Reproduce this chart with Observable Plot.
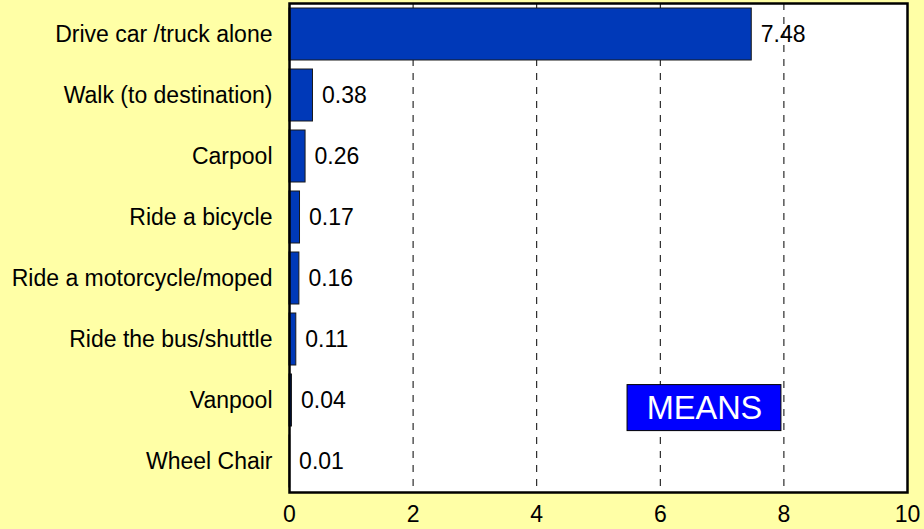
<!DOCTYPE html>
<html>
<head>
<meta charset="utf-8">
<script src="https://cdn.jsdelivr.net/npm/d3@7"></script>
<script src="https://cdn.jsdelivr.net/npm/@observablehq/plot@0.6"></script>
<style>
  html, body { margin: 0; padding: 0; background: #ffffa6; }
  #chart svg { display: block; }
</style>
</head>
<body>
<div id="chart"></div>
<script>
const categories = [
  "Drive car /truck alone",
  "Walk (to destination)",
  "Carpool",
  "Ride a bicycle",
  "Ride a motorcycle/moped",
  "Ride the bus/shuttle",
  "Vanpool",
  "Wheel Chair"
];
const means = [7.48, 0.38, 0.26, 0.17, 0.16, 0.11, 0.04, 0.01];
const xTicks = [0, 2, 4, 6, 8, 10];
const gridTicks = [2, 4, 6, 8];
const legendLabel = ["MEANS"];

const data = categories.map((c, i) => ({ mode: c, value: means[i] }));
const legendBox = [{ x1: 5.47, x2: 7.96, y: "Vanpool", label: legendLabel[0] }];
const FONT = "'Liberation Sans', Arial, sans-serif";

const chart = Plot.plot({
  width: 924,
  height: 529,
  marginLeft: 289,
  marginRight: 17,
  marginTop: 3,
  marginBottom: 37,
  style: { fontFamily: FONT, fontSize: "23px", background: "#ffffa6", color: "#000" },
  x: { domain: [0, 10], label: null, axis: null },
  y: { domain: categories, paddingInner: 0.15, paddingOuter: 0.075, label: null, axis: null },
  marks: [
    Plot.frame({ fill: "white", stroke: null }),
    Plot.ruleX(gridTicks, { stroke: "#000", strokeWidth: 1, strokeDasharray: "7,7" }),
    Plot.barX(data, { x: "value", y: "mode", fill: "#0039b8", stroke: "#1a1a1a", strokeWidth: 1 }),
    Plot.text(data, { x: "value", y: "mode", text: d => d.value.toFixed(2), dx: 9, textAnchor: "start", fill: "#000", fontSize: 23 }),
    Plot.rect(legendBox, { x1: "x1", x2: "x2", y: "y", fill: "#0000ff", stroke: "#000", strokeWidth: 1, insetTop: 10.6, insetBottom: -4.6 }),
    Plot.text(legendBox, { x: d => (d.x1 + d.x2) / 2, y: "y", text: "label", fill: "white", fontSize: 32.5, dy: 8 }),
    Plot.axisY(categories, { tickSize: 0, tickPadding: 17, fontSize: 23, label: null, fill: "#000" }),
    Plot.axisX(xTicks, { tickSize: 0, tickPadding: 13, fontSize: 23, label: null, fill: "#000" }),
    Plot.frame({ stroke: "#000", strokeWidth: 2.5 })
  ]
});
document.getElementById("chart").appendChild(chart);
</script>
</body>
</html>
